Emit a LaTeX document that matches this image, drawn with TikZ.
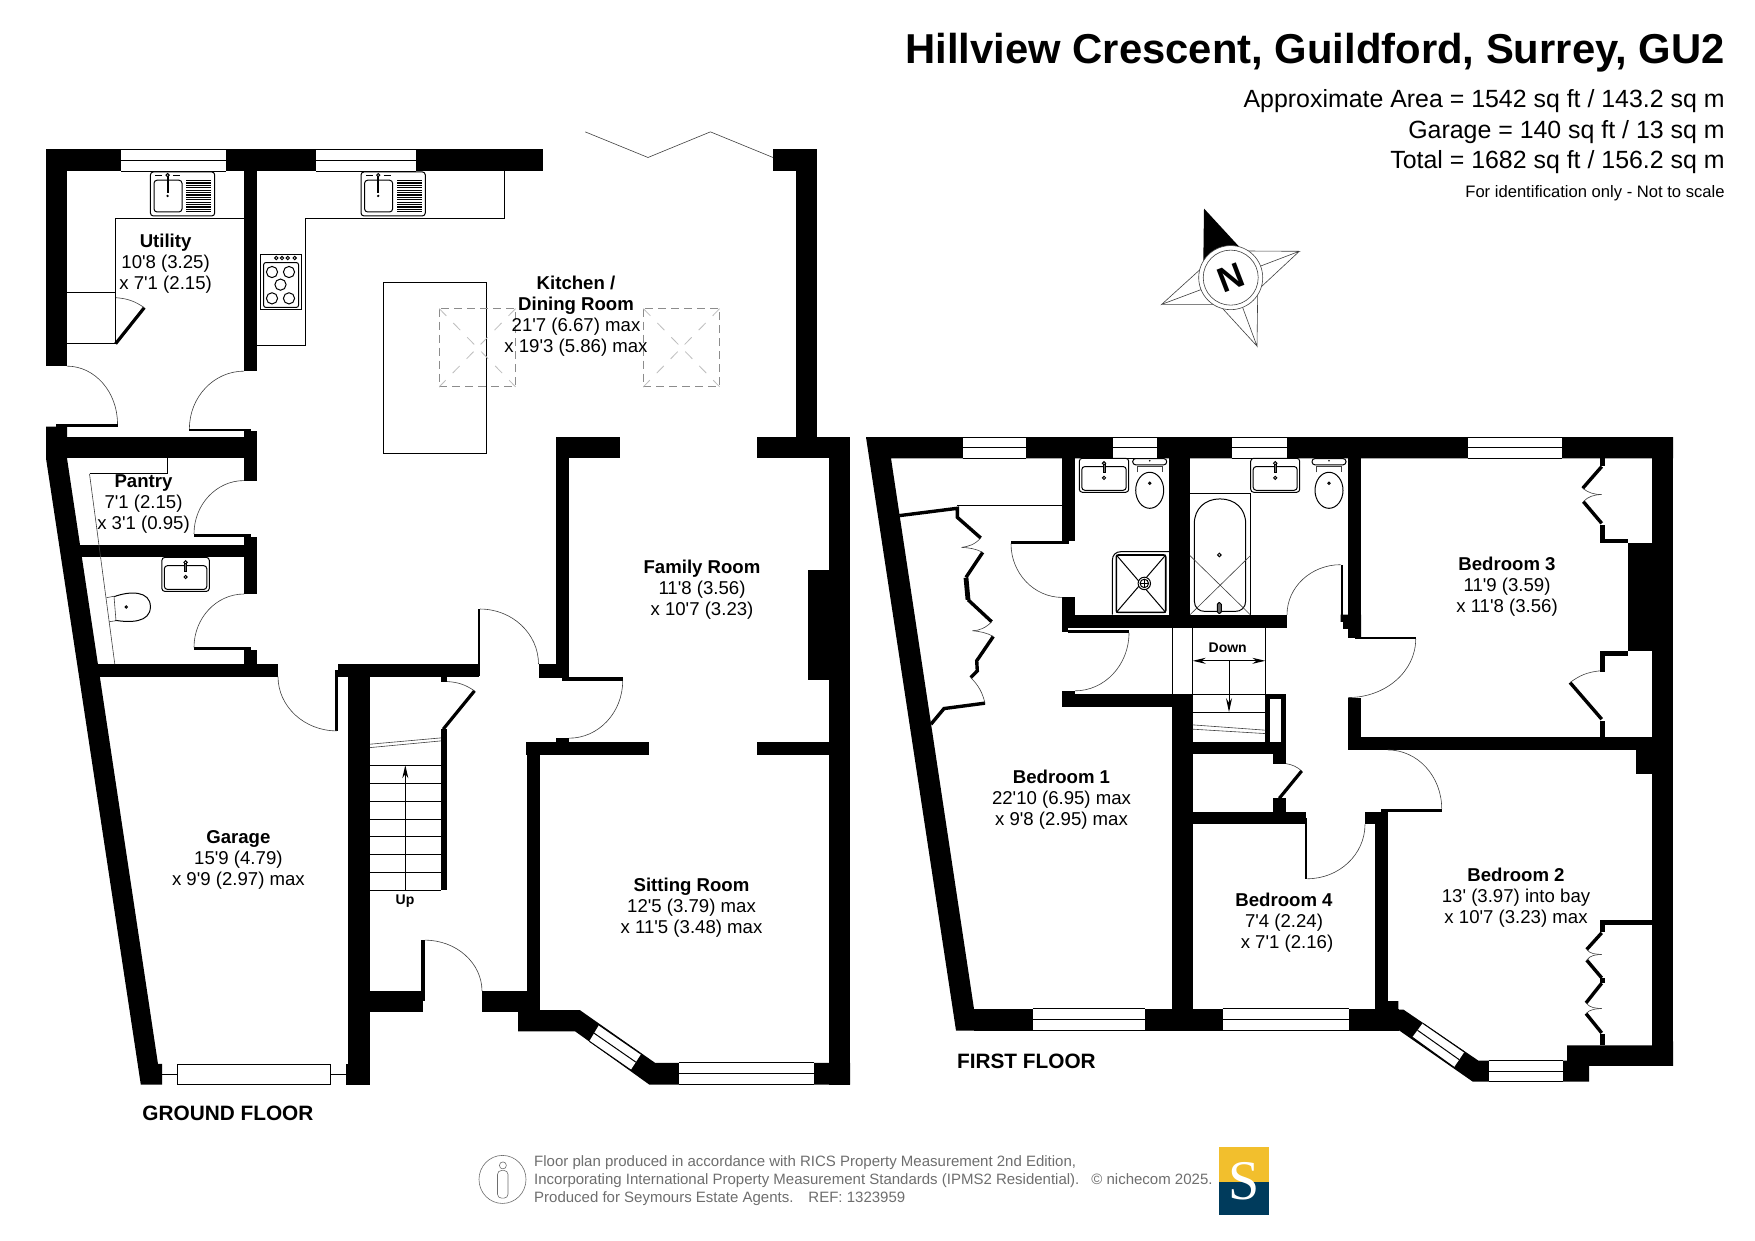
\documentclass[tikz,border=0pt]{standalone}
\usepackage{fontspec}
\setmainfont{Liberation Sans}[Ligatures=TeXOff]
\newfontfamily\serifS{Liberation Serif}
\usetikzlibrary{calc,arrows.meta}
\definecolor{footgray}{HTML}{6E6E6E}
\definecolor{skygray}{HTML}{8C8C8C}
\definecolor{skylight}{HTML}{BDBDBD}
\definecolor{logoyellow}{HTML}{F2BF2D}
\definecolor{logonavy}{HTML}{003B5C}
\tikzset{
  x=0.5pt,y=-0.5pt,
  thinl/.style={draw=black,line width=0.5pt},
  hair/.style={draw=black!75,line width=0.3pt},
  leafl/.style={draw=black,line width=1.6pt,line cap=butt},
  wardl/.style={draw=black,line width=1.7pt,line join=miter},
  skyd/.style={draw=skygray,line width=0.4pt,dash pattern=on 4pt off 2.5pt},
  skyx/.style={draw=skylight,line width=0.4pt,dash pattern=on 5pt off 5pt},
  roomtext/.style={align=center,inner sep=0pt,font=\fontsize{9.3}{10.5}\selectfont},
  smalltext/.style={inner sep=0pt,font=\bfseries\fontsize{7}{8}\selectfont},
  floortext/.style={inner sep=0pt,anchor=base west,font=\bfseries\fontsize{10.4}{12}\selectfont},
  areatext/.style={inner sep=0pt,anchor=base east,font=\fontsize{12.45}{15}\selectfont},
  foottext/.style={inner sep=0pt,anchor=base west,text=footgray,font=\fontsize{7.5}{9}\selectfont},
}
\newcommand{\wall}[4]{\fill[black] (#1,#2) rectangle (#3,#4);}
\newcommand{\winH}[4]{\fill[white] (#1,#2) rectangle (#3,#4);
  \draw[thinl] (#1,#2) -- (#3,#2) (#1,{(#2+#4)/2}) -- (#3,{(#2+#4)/2}) (#1,#4) -- (#3,#4);}
\newcommand{\swing}[4]{\draw[hair] (#1,#2) .. controls ($(#1,#2)!0.552!(#3,#2)$) and ($(#3,#4)!0.552!(#3,#2)$) .. (#3,#4);}
\newcommand{\sinkunit}[2]{\begin{scope}[shift={(#1,#2)}]
  \draw[thinl,rounded corners=1.5pt] (0,0) rectangle (64.3,44);
  \draw[thinl,rounded corners=1.5pt] (3.6,8.3) rectangle (31.6,40);
  \foreach \dy in {8.6,11,13.4,15.8,18.2,20.6,23,25.4,27.8,30.2,32.6,35,37.4,39.6}{\draw[black,line width=0.6pt] (36,\dy) -- (60.5,\dy);}
  \draw[black,line width=0.9pt] (17.2,4) -- (17.2,21);
  \draw[thinl] (17.2,3.2) circle[radius=1.6];
  \fill[black] (17.2,24) circle[radius=1.3];
  \draw[thinl] (5,3.2) -- (12,3.2) (22.5,3.2) -- (29.5,3.2);
  \end{scope}}
\newcommand{\basinunit}[3]{\begin{scope}[shift={(#1,#2)}]
  \draw[thinl,rounded corners=1.5pt] (0,0) rectangle (#3,34);
  \draw[thinl,rounded corners=1.5pt] (2.5,8.3) rectangle ({#3-2.5},32);
  \draw[thinl] ({#3/2},5) circle[radius=1.7];
  \draw[thinl,fill=black!60] ({#3/2-1},6.5) rectangle ({#3/2+1},14);
  \draw[thinl] ({#3/2},19.6) circle[radius=1.6];
  \end{scope}}
\newcommand{\wcunit}[2]{\begin{scope}[shift={(#1,#2)}]
  \draw[thinl,rounded corners=1.5pt,fill=white] (-17,0.3) rectangle (17,6.6);
  \draw[thinl] (0,32) ellipse[x radius=14,y radius=18];
  \draw[hair] (-12.5,14) -- (-12.5,8) -- (12.5,8) -- (12.5,14);
  \draw[thinl] (0,25) circle[radius=1.2];
  \fill[black] (0,2.5) circle[radius=0.9];
  \end{scope}}
\begin{document}
\begin{tikzpicture}
\useasboundingbox (0,0) rectangle (1755,1241);
\fill[white] (0,0) rectangle (1755,1241);
\begin{scope}[yscale=1.0012]

% ------ GROUND FLOOR walls
\wall{46}{149}{543}{171}
\wall{46}{149}{67}{366}
\wall{244}{171}{257}{371}
\fill[black] (46,426) -- (67,426) -- (67,457.7) -- (158,1062.7) -- (162,1062.7) -- (162,1083.3) -- (140.8,1083.3) -- (46,457.7) -- cycle;
\wall{56}{423.3}{117.5}{426.7}
\wall{67}{436.7}{257}{457.7}
\wall{189.4}{428.3}{251}{430.7}
\wall{244}{430}{257}{480}
\wall{194}{533.3}{250.7}{536}
\wall{244}{536}{257}{544}
\wall{75}{544}{257}{556.7}
\wall{244}{556.7}{257}{593.3}
\wall{194}{646.7}{250.7}{649}
\wall{244}{649}{257}{664}
\wall{95}{663.3}{278}{675.7}
\wall{334.9}{669}{337.5}{730}
\wall{337.5}{663.3}{479}{675.7}
\wall{348}{675.7}{370}{1083.3}
\wall{346}{1062.7}{348}{1083.3}
\wall{477.6}{608.3}{480}{675}
\wall{538.5}{663.5}{556}{677}
\wall{556}{436.7}{569}{677}
\wall{556}{436.7}{620}{457.7}
\wall{757}{436.7}{850}{457.7}
\wall{796}{171}{817}{437}
\wall{773}{149}{817}{171}
\wall{829}{437}{850}{1083.3}
\wall{808}{569.4}{829}{679.4}
\wall{561.7}{676.6}{622.7}{679.8}
\wall{556}{737.3}{569}{742}
\wall{526}{741}{648.7}{754}
\wall{757}{741}{829}{754}
\wall{526.6}{741}{540}{1010}
\wall{370}{990}{423}{1010.7}
\wall{421.4}{939}{424.8}{1000}
\wall{482}{990}{527}{1010.7}
\fill[black] (518,1009) -- (580,1009) -- (655,1061.5) -- (829,1061.5) -- (850,1061.5) -- (850,1083.3) -- (649.3,1083.3) -- (575,1030) -- (518,1030) -- cycle;
% stair wall and cupboard
\wall{441}{728.3}{447}{889.3}
\wall{441}{675.7}{447}{680.7}
\draw[leafl] (443.2,728.3) -- (474.5,690);
\draw[hair] (447,680.7) to[bend left=15] (474.5,690);
% utility cupboard door
\draw[leafl] (115.6,343.3) -- (144.3,307.3);
\draw[hair] (115.6,297.3) to[bend left=15] (144.3,307.3);

% windows ground
\winH{121}{149}{226}{171}
\winH{316}{149}{416}{171}
\winH{679}{1061.5}{814}{1083.3}
\fill[white] (599,1023.8) -- (641,1052.8) -- (630.7,1068.7) -- (589.3,1040) -- cycle;
\draw[thinl] (599,1023.8) -- (641,1052.8) (594.2,1032) -- (635.8,1060.8) (589.3,1040) -- (630.7,1068.7);
% garage door
\draw[thinl] (162,1073.3) -- (177.6,1073.3) (330.3,1073.3) -- (346,1073.3);
\draw[thinl] (177.6,1063.3) rectangle (330.3,1083.3);

% door swings ground
\swing{67}{365.7}{117.5}{423.3}
\swing{244}{370.7}{189.4}{428.3}
\swing{244}{480}{194}{533.3}
\swing{244}{593.3}{194}{646.7}
\swing{336.8}{730}{278}{675.7}
\swing{480}{608.3}{538.5}{663.3}
\swing{569}{737.3}{622.7}{680}
\swing{424.8}{939}{482}{990}
% bifold
\draw[hair] (585.2,131.7) -- (648,157.3) -- (710.4,131.7) -- (773,157.3);

% kitchen fittings
\draw[thinl] (244,218.3) -- (115.6,218.3) -- (115.6,343.3) -- (67,343.3);
\draw[thinl] (67,292.3) -- (115.6,292.3);
\draw[thinl] (257,345.3) -- (305.4,345.3) -- (305.4,218.3) -- (504.4,218.3) -- (504.4,171);
\sinkunit{150.4}{171.7}
\sinkunit{361}{171.7}
\draw[thinl] (260.2,254) rectangle (301.6,309.3);
\draw[thinl,rounded corners=1pt] (263.7,262.3) rectangle (298.5,307);
\foreach \cx/\cy in {272/271.7,289/271.7,280.5/284.3,272/298,289/298}{\draw[thinl] (\cx,\cy) circle[radius=5.6];}
\foreach \cx in {276.3,282,287.8,294.7}{\draw[thinl] (\cx,257.7) circle[radius=1.7];}
\draw[thinl] (383.5,282.3) rectangle (486.4,453.3);
\foreach \sx in {439.3,643.4}{
  \draw[skyd] (\sx,308.3) rectangle ({\sx+76.2},386.3);
  \draw[skyx] (\sx,308.3) -- ({\sx+76.2},386.3) ({\sx+76.2},308.3) -- (\sx,386.3);
}
% pantry shelf + cloakroom
\draw[thinl] (167,457.7) -- (167,473.3) -- (89.5,473.3);
\draw[hair] (89.5,473.3) -- (114.8,663.3);
\basinunit{161.9}{556.7}{47.4}
\draw[thinl] (114,596) .. controls (130,590) and (150.4,590) .. (150.4,606) .. controls (150.4,622) and (130,622) .. (115,619.5);
\draw[hair] (106.4,597) -- (114,595.5) -- (116,620) -- (109,621);
\draw[thinl] (126.3,606.3) circle[radius=1.2];
% stairs ground
\foreach \ty in {764.3,782.3,800.3,818.3,835.7,853.3,871.3,889.3}{\draw[thinl] (370,\ty) -- (441,\ty);}
\draw[thinl,-{Stealth[length=6.5pt,width=3pt]}] (405.3,889.3) -- (405.3,764.3);
\draw[hair] (370,743.3) -- (441,737) (370,746.7) -- (441,740);

% ------ FIRST FLOOR walls
\fill[black] (866,436.7) -- (1673,436.7) -- (1673,457.7) -- (891,457.7) -- (974,1007.7) -- (974,1029.3) -- (956,1029.3) -- cycle;
\wall{974}{1007.7}{1399}{1029.3}
\wall{1062.3}{457.7}{1075}{540.7}
\wall{1011}{540}{1069}{543}
\wall{1062.3}{596.7}{1075}{614}
\wall{1062.3}{614}{1287}{627.7}
\wall{1062.3}{627.7}{1068.3}{631}
\wall{1068.3}{629.3}{1129}{632}
\wall{1169}{457.7}{1190}{614}
\wall{1062.3}{690}{1075}{706}
\wall{1075}{693.3}{1192.7}{706}
\wall{1172.3}{693.3}{1192.7}{1029.3}
\fill[black] (1265.3,693.3) rectangle (1286,753.3);
\fill[white] (1269.7,697.7) rectangle (1281.3,741);
\wall{1192.7}{741}{1286}{753.3}
\wall{1273}{753.3}{1286}{762.7}
\wall{1273}{797.3}{1286}{811}
\wall{1192.7}{811}{1306}{823.3}
\wall{1305}{816.7}{1307.3}{877.7}
\draw[leafl] (1279.3,797.3) -- (1301.7,770);
\draw[hair] (1286,762.7) to[bend left=15] (1301.7,770);
% bedroom 3 left wall and door
\wall{1348.3}{457.7}{1361}{637}
\wall{1340.7}{564}{1343.3}{621}
\fill[black] (1340.7,614) -- (1340.7,621) -- (1343,621) -- (1343,628) -- (1348.3,628) -- (1348.3,637) -- (1361,637) -- (1361,614) -- cycle;
\wall{1355}{636}{1415.7}{638.3}
\wall{1348.3}{696.7}{1361}{749}
\wall{1348.3}{736}{1673}{749}
\wall{1652.3}{436.7}{1673}{1064.7}
\wall{1628.3}{542.7}{1652.3}{650.7}
\wall{1636}{749}{1652.3}{772.7}
% bedroom 3 wardrobes
\wall{1600}{457.7}{1605}{465}
\wall{1600}{524}{1605}{542.7}
\wall{1600}{538}{1628.3}{542.7}
\wall{1600}{650.7}{1628.3}{655.7}
\wall{1600}{655.7}{1605}{670.7}
\wall{1600}{720}{1605}{736}
\draw[wardl] (1601.7,466) -- (1582.7,487.7);
\draw[wardl] (1583.3,501) -- (1601.7,522.7);
\draw[hair] (1582.7,487.7) .. controls (1588,492) and (1594,494) .. (1601.7,494);
\draw[hair] (1583.3,501) .. controls (1588,496) and (1594,494) .. (1601.7,494);
\draw[wardl] (1601.7,718.3) -- (1570,681.7);
\draw[hair] (1570,681.7) to[bend left=15] (1600,670);
% bedroom 4/2 wall and bay
\wall{1365}{811}{1387.7}{823.3}
\wall{1375}{823.3}{1387.7}{1008}
\wall{1380.7}{807.7}{1441.7}{810.7}
\fill[black] (1375,1000) -- (1398.3,1000) -- (1398.3,1008.3) -- (1403.3,1008.3) -- (1478.3,1059.3) -- (1567,1059.3) -- (1567,1044) -- (1652.3,1044) -- (1652.3,1040) -- (1673,1040) -- (1673,1064.7) -- (1589,1064.7) -- (1589,1080.3) -- (1472.7,1080.3) -- (1399.3,1029.3) -- (1375,1029.3) -- cycle;
% bedroom 2 wardrobe
\wall{1600}{919}{1652.3}{923.7}
\wall{1600}{923.7}{1605}{930.7}
\wall{1600}{977.3}{1605}{981.7}
\wall{1600}{1032.7}{1605}{1044}
\draw[wardl] (1601.7,931.7) -- (1586.7,948.3);
\draw[wardl] (1586.7,959) -- (1601.7,976.7);
\draw[wardl] (1601.7,982) -- (1586,1001.7);
\draw[wardl] (1586,1012.3) -- (1601.7,1031.7);
\draw[hair] (1586.7,948.3) .. controls (1590,953) and (1596,953) .. (1601.7,953.3);
\draw[hair] (1586.7,959) .. controls (1590,954) and (1596,953.5) .. (1601.7,953.3);
\draw[hair] (1586,1001.7) .. controls (1590,1007) and (1596,1007) .. (1601.7,1007.3);
\draw[hair] (1586,1012.3) .. controls (1590,1008) and (1596,1007.5) .. (1601.7,1007.3);
% bedroom 1 wardrobe
\draw[thinl] (957.3,505.3) -- (1062.3,505.3);
\draw[wardl] (899.3,515) -- (957.3,507.7) -- (957.3,516.7) -- (980.7,537.3);
\draw[wardl] (982.7,551.7) -- (966,576.7);
\draw[black,line width=2.4pt] (966,577) -- (968,599);
\draw[wardl] (968,599) -- (991.7,621);
\draw[wardl] (993.3,635.7) -- (976.7,660) -- (977.3,670) -- (970.7,676.7);
\draw[wardl] (985,702.3) -- (944,707.7) -- (931,723.3);
\draw[hair] (980.7,537.3) .. controls (975,544) and (968,546) .. (961.7,546.7);
\draw[hair] (982.7,551.7) .. controls (976,548) and (968,547) .. (961.7,546.7);
\draw[hair] (991.7,621) .. controls (986,627) and (979,630) .. (972.7,630);
\draw[hair] (993.3,635.7) .. controls (987,632) and (979,630.5) .. (972.7,630);
\draw[hair] (970.7,676.7) to[bend left=15] (985,702.3);

% windows first
\winH{962.7}{436.7}{1026}{457.7}
\winH{1112.7}{436.7}{1157}{457.7}
\winH{1231.7}{436.7}{1287}{457.7}
\winH{1467.7}{436.7}{1562.3}{457.7}
\winH{1033}{1007.7}{1145}{1029.3}
\winH{1222.7}{1007.7}{1349}{1029.3}
\winH{1488.7}{1059.3}{1563}{1080.3}
\fill[white] (1422.7,1022) -- (1464.3,1050.7) -- (1454,1066) -- (1412.3,1036) -- cycle;
\draw[thinl] (1422.7,1022) -- (1464.3,1050.7) (1417.5,1029) -- (1459.2,1058.4) (1412.3,1036) -- (1454,1066);

% door swings first
\swing{1062.3}{596.7}{1011}{543}
\swing{1075}{690}{1129}{632}
\swing{1340.7}{564}{1287}{614}
\swing{1348.3}{696.7}{1415.7}{638.3}
\swing{1307.3}{877.7}{1365}{823.3}
\swing{1387.7}{749}{1441.7}{807.7}

% first floor stairs
\draw[thinl] (1172.3,627.7) -- (1172.3,693.3) (1192.7,627.7) -- (1192.7,741) (1265.3,627.7) -- (1265.3,741);
\draw[thinl] (1192.7,693.3) -- (1265.3,693.3) (1192.7,711.3) -- (1265.3,711.3);
\draw[thinl,{Stealth[length=6.5pt,width=3pt]}-{Stealth[length=6.5pt,width=3pt]}] (1192.7,660) -- (1265.3,660);
\draw[thinl,-{Stealth[length=7pt,width=3pt]}] (1229,660) -- (1229,711.3);
\draw[hair] (1192.7,724) -- (1265.3,729.3) (1192.7,728.3) -- (1265.3,732.7);

% bathroom fittings
\basinunit{1079.3}{457.7}{49.4}
\basinunit{1250.7}{457.7}{49}
\wcunit{1149.7}{457.7}
\wcunit{1329}{457.7}
% shower
\draw[thinl] (1112.3,614) -- (1112.3,560) .. controls (1112.3,554) and (1116,551) .. (1121,551) -- (1169,551);
\draw[black,line width=0.8pt,rounded corners=1pt] (1116.3,554.3) rectangle (1165.7,611.7);
\draw[thinl] (1116.3,554.3) -- (1165.7,611.7) (1165.7,554.3) -- (1116.3,611.7);
\draw[thinl,fill=white] (1144.3,582.7) circle[radius=6.2];
\draw[thinl] (1144.3,582.7) circle[radius=4.2];
\draw[thinl] (1140.1,582.7) -- (1148.5,582.7) (1144.3,578.5) -- (1144.3,586.9);
% bath
\draw[thinl] (1190,493.3) -- (1250.3,493.3) -- (1250.3,614);
\draw[thinl] (1194.3,523.3) .. controls (1194.3,508) and (1205,498.3) .. (1220,498.3) .. controls (1235,498.3) and (1245.7,508) .. (1245.7,523.3) -- (1245.7,600) .. controls (1245.7,607) and (1241,610.7) .. (1235,610.7) -- (1205,610.7) .. controls (1199,610.7) and (1194.3,607) .. (1194.3,600) -- cycle;
\draw[hair] (1190,555) -- (1250.3,614) (1250.3,555) -- (1190,614);
\draw[thinl] (1219.3,554.3) circle[radius=1.8];
\draw[thinl,fill=black!60,rounded corners=0.8pt] (1217.3,602) rectangle (1221.3,612.7);

% ------ COMPASS
\fill[black] (1204,208.3) -- (1240,247.3) -- (1230.7,277.3) -- (1203.3,261) -- cycle;
\draw[hair] (1246.7,250.7) -- (1299.3,251) -- (1260.7,265.7) (1299.3,251) -- (1261.7,286);
\draw[hair] (1200,269.3) -- (1161.7,304) -- (1201.7,289) (1161.7,304) -- (1213.3,304);
\draw[hair] (1222.7,308.3) -- (1257,345.7) -- (1242.7,307.3) (1257,345.7) -- (1257.7,291.7);
\draw[hair,fill=white] (1230.7,277.3) circle[radius=32];
\draw[hair] (1230.7,277.3) circle[radius=27.5];
\node[inner sep=0pt,rotate=21,font=\bfseries\fontsize{17.5}{18}\selectfont] (northN) at (1230.7,277.3) {N};

% ------ TEXT
\node[inner sep=0pt,anchor=base east,font=\bfseries\fontsize{20.9}{24}\selectfont] (title) at (1725,63.4) {Hillview Crescent, Guildford, Surrey, GU2};
\node[areatext] (areaA) at (1725,107.4) {Approximate Area = 1542 sq ft / 143.2 sq m};
\node[areatext] (areaG) at (1725,138) {Garage = 140 sq ft / 13 sq m};
\node[areatext] (areaT) at (1725,168.4) {Total = 1682 sq ft / 156.2 sq m};
\node[inner sep=0pt,anchor=base east,font=\fontsize{8.3}{10}\selectfont] (idonly) at (1725,197.4) {For identification only - Not to scale};

\node[roomtext] (utility) at (165.6,263.5) {\textbf{Utility}\\10'8 (3.25)\\x 7'1 (2.15)};
\node[roomtext] (kitchen) at (576,315.5) {\textbf{Kitchen /}\\\textbf{Dining Room}\\21'7 (6.67) max\\x 19'3 (5.86) max};
\node[roomtext] (pantry) at (143.5,503) {\textbf{Pantry}\\7'1 (2.15)\\x 3'1 (0.95)};
\node[roomtext] (family) at (702,588.5) {\textbf{Family Room}\\11'8 (3.56)\\x 10'7 (3.23)};
\node[roomtext] (garage) at (238.4,859) {\textbf{Garage}\\15'9 (4.79)\\x 9'9 (2.97) max};
\node[roomtext] (sitting) at (691.5,907) {\textbf{Sitting Room}\\12'5 (3.79) max\\x 11'5 (3.48) max};
\node[roomtext] (bed1) at (1061.5,798.5) {\textbf{Bedroom 1}\\22'10 (6.95) max\\x 9'8 (2.95) max};
\node[roomtext] (bed2) at (1516,897) {\textbf{Bedroom 2}\\13' (3.97) into bay\\x 10'7 (3.23) max};
\node[roomtext] (bed3) at (1507,586) {\textbf{Bedroom 3}\\11'9 (3.59)\hspace*{9pt}\\x 11'8 (3.56)};
\node[roomtext] (bed4) at (1284,921.5) {\textbf{Bedroom 4}\\7'4 (2.24)\hspace*{5pt}\\\hspace*{3pt}x 7'1 (2.16)};
\node[smalltext] (upL) at (405,900) {Up};
\node[smalltext] (downL) at (1227.7,647) {Down};
\node[floortext] (gfloor) at (142,1119.6) {GROUND FLOOR};
\node[floortext] (ffloor) at (956.7,1067) {FIRST FLOOR};

% ------ FOOTER
\draw[footgray,line width=0.3pt] (502.5,1178) ellipse[x radius=23.5,y radius=24];
\draw[footgray,line width=0.3pt] (502.9,1164) circle[radius=3.5];
\draw[footgray,line width=0.3pt,rounded corners=2pt] (497.5,1169) rectangle (508,1196.7);
\node[foottext] (foot1) at (533.8,1165.5) {Floor plan produced in accordance with RICS Property Measurement 2nd Edition,};
\node[foottext] (foot2) at (533.8,1183.5) {Incorporating International Property Measurement Standards (IPMS2 Residential).};
\node[foottext] (foot3) at (533.8,1201.5) {Produced for Seymours Estate Agents.\hspace{1em}REF: 1323959};
\node[foottext] (foot4) at (1091,1183.5) {© nichecom 2025.};
\fill[logoyellow] (1219,1146) rectangle (1269,1180.3);
\fill[logonavy] (1219,1180.3) rectangle (1269,1213.7);
\node[inner sep=0pt,text=white,font=\serifS\fontsize{28}{28}\selectfont] (logoS) at (1244,1180) {S};
\end{scope}
\end{tikzpicture}
\end{document}
